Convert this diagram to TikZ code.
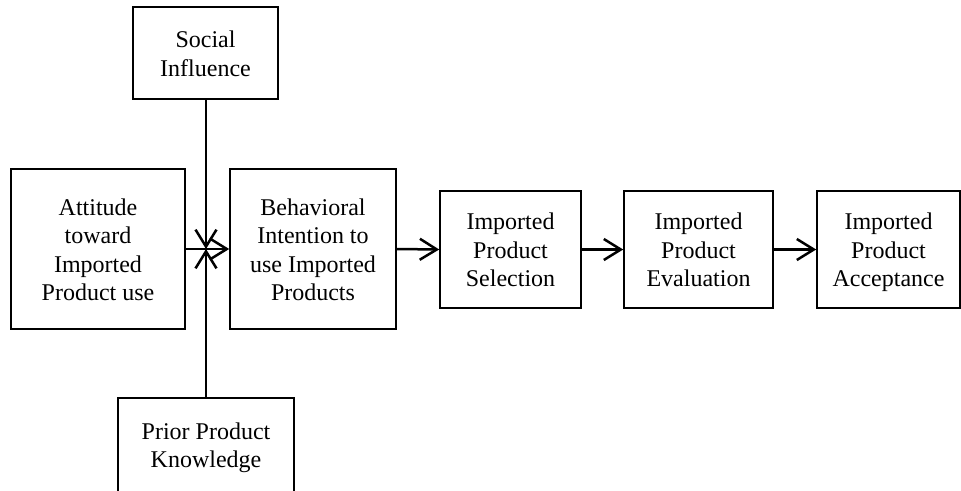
\documentclass[tikz,border=0pt]{standalone}
\usepackage{fontspec}
\setmainfont{Liberation Serif}
\usetikzlibrary{arrows.meta}
\begin{document}
\begin{tikzpicture}[x=1pt,y=-1pt,
  box/.style={draw,line width=1.6pt,rectangle,inner sep=0pt},
  txt/.style={align=center,inner sep=0pt,font=\fontsize{24}{28.5}\selectfont,
    execute at end node={\vphantom{p}}},
  flow/.style={line width=2.5pt,-{Straight Barb[length=17pt,width=21pt,line width=2.5pt]}}]
\clip (0,0) rectangle (961,490);
% influencing factors
\node[box,minimum width=145pt,minimum height=92pt] (soc) at (205.5,53) {};
\node[box,minimum width=174pt,minimum height=160pt] (att) at (98,249) {};
\node[box,minimum width=176pt,minimum height=94pt] (pri) at (206,445) {};
% main chain
\node[box,minimum width=166pt,minimum height=160pt] (beh) at (313,249) {};
\node[box,minimum width=141pt,minimum height=117pt] (sel) at (510.5,249.5) {};
\node[box,minimum width=149pt,minimum height=117pt] (eva) at (698.5,249.5) {};
\node[box,minimum width=143pt,minimum height=117pt] (acc) at (888.5,249.5) {};
% box labels, set a little below each box centre
\node[txt] (soct) at ([yshift=-3pt]soc.center) {Social\\Influence};
\node[txt] (attt) at ([yshift=-3pt]att.center) {Attitude\\toward\\Imported\\Product use};
\node[txt] (prit) at ([yshift=-3pt]pri.center) {Prior Product\\Knowledge};
\node[txt] (beht) at ([yshift=-3pt]beh.center) {Behavioral\\Intention to\\use Imported\\Products};
\node[txt] (selt) at ([yshift=-3pt]sel.center) {Imported\\Product\\Selection};
\node[txt] (evat) at ([yshift=-3pt]eva.center) {Imported\\Product\\Evaluation};
\node[txt] (acct) at ([yshift=-3pt]acc.center) {Imported\\Product\\Acceptance};
% junction where the moderators meet the attitude link
\coordinate (hub) at (206,249);
\draw[flow] (soc.south -| hub) -- (hub);
\draw[flow] (pri.north -| hub) -- (hub);
\draw[flow] (att.east) -- (beh.west);
\draw[flow] (beh.east) -- (sel.west);
\draw[flow] (sel.east) -- (eva.west);
\draw[flow] (eva.east) -- (acc.west);
\end{tikzpicture}
\end{document}
